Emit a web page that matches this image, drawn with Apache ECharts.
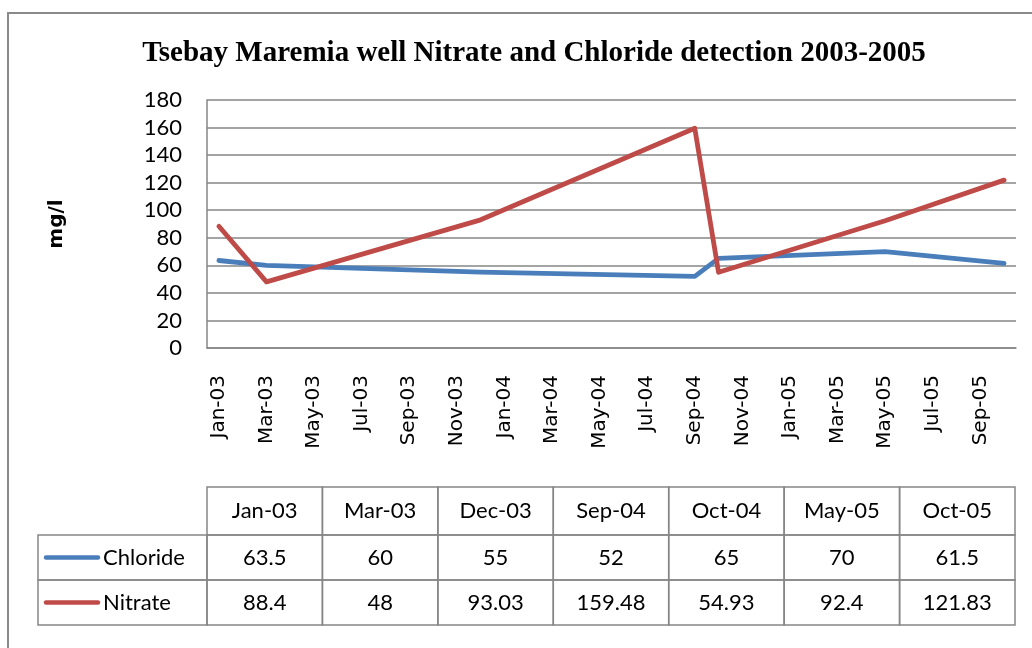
<!DOCTYPE html>
<html>
<head>
  <meta charset="utf-8">
  <script src="https://cdn.jsdelivr.net/npm/echarts@6.0.0/dist/echarts.min.js"></script>
  <style>
    body { margin: 0; padding: 0; background: #fff; }
    #chart { width: 1032px; height: 648px; }
  </style>
</head>
<body>
  <div id="chart"></div>
  <script>
    // month bands on the date axis (labels shown every other month)
    const months = [
      'Jan-03', 'Feb-03', 'Mar-03', 'Apr-03', 'May-03', 'Jun-03', 'Jul-03', 'Aug-03', 'Sep-03', 'Oct-03', 'Nov-03', 'Dec-03',
      'Jan-04', 'Feb-04', 'Mar-04', 'Apr-04', 'May-04', 'Jun-04', 'Jul-04', 'Aug-04', 'Sep-04', 'Oct-04', 'Nov-04', 'Dec-04',
      'Jan-05', 'Feb-05', 'Mar-05', 'Apr-05', 'May-05', 'Jun-05', 'Jul-05', 'Aug-05', 'Sep-05', 'Oct-05'
    ];
    const sampleDates = ['Jan-03', 'Mar-03', 'Dec-03', 'Sep-04', 'Oct-04', 'May-05', 'Oct-05'];
    const chloride = [63.5, 60, 55, 52, 65, 70, 61.5];
    const nitrate = [88.4, 48, 93.03, 159.48, 54.93, 92.4, 121.83];
    const yTicks = { min: 0, max: 180, step: 20 };

    const BLUE = '#4A7EBB';
    const RED = '#BE4B48';
    const GRID_COLOR = '#868686';

    const plot = { left: 207, right: 1016, top: 100, bottom: 348 };

    // data table under the chart
    const tbl = { left: 38, colStart: 207, right: 1015, rows: [487, 535, 580, 625] };
    const colW = (tbl.right - tbl.colStart) / sampleDates.length;
    const cellFont = '22px Lato';
    const graphics = [];

    // outer chart frame (runs off the right and bottom edge)
    graphics.push({
      type: 'rect', shape: { x: 8, y: 13, width: 1060, height: 700 },
      style: { fill: 'none', stroke: '#8a8a8a', lineWidth: 2 }, silent: true
    });

    const border = { fill: 'none', stroke: GRID_COLOR, lineWidth: 1.5 };
    // header row cells
    sampleDates.forEach((d, i) => {
      const x = tbl.colStart + i * colW;
      graphics.push({ type: 'rect', shape: { x: x, y: tbl.rows[0], width: colW, height: tbl.rows[1] - tbl.rows[0] }, style: border });
      graphics.push({ type: 'text', x: x + colW / 2, y: (tbl.rows[0] + tbl.rows[1]) / 2,
        style: { text: d, font: cellFont, fill: '#000', align: 'center', verticalAlign: 'middle' } });
    });

    const rowsData = [
      { name: 'Chloride', color: BLUE, values: chloride },
      { name: 'Nitrate', color: RED, values: nitrate }
    ];
    rowsData.forEach((r, ri) => {
      const y0 = tbl.rows[ri + 1], y1 = tbl.rows[ri + 2];
      const cy = (y0 + y1) / 2;
      graphics.push({ type: 'rect', shape: { x: tbl.left, y: y0, width: tbl.colStart - tbl.left, height: y1 - y0 }, style: border });
      graphics.push({ type: 'line', shape: { x1: 46, y1: cy, x2: 98, y2: cy },
        style: { stroke: r.color, lineWidth: 4.5, lineCap: 'round' } });
      graphics.push({ type: 'text', x: 103, y: cy,
        style: { text: r.name, font: cellFont, fill: '#000', align: 'left', verticalAlign: 'middle' } });
      r.values.forEach((v, i) => {
        const x = tbl.colStart + i * colW;
        graphics.push({ type: 'rect', shape: { x: x, y: y0, width: colW, height: y1 - y0 }, style: border });
        graphics.push({ type: 'text', x: x + colW / 2, y: cy,
          style: { text: String(v), font: cellFont, fill: '#000', align: 'center', verticalAlign: 'middle' } });
      });
    });

    const lineSeries = (name, values, color) => ({
      name: name,
      type: 'line',
      data: sampleDates.map((d, i) => [d, values[i]]),
      showSymbol: false,
      symbol: 'none',
      lineStyle: { color: color, width: 4.8, cap: 'round', join: 'round' },
      itemStyle: { color: color },
      z: 3
    });

    const chart = echarts.init(document.getElementById('chart'));
    chart.setOption({
      animation: false,
      backgroundColor: '#fff',
      title: {
        text: 'Tsebay Maremia well Nitrate and Chloride detection 2003-2005',
        left: 529,
        top: 34,
        textAlign: 'center',
        textStyle: { fontFamily: 'Liberation Serif', fontWeight: 'bold', fontSize: 29, color: '#000' }
      },
      grid: {
        left: plot.left, right: 1032 - plot.right, top: plot.top, height: plot.bottom - plot.top,
        containLabel: false
      },
      xAxis: {
        type: 'category',
        data: months,
        boundaryGap: true,
        axisTick: { show: false },
        axisLine: { lineStyle: { color: GRID_COLOR, width: 1.5 } },
        axisLabel: {
          rotate: 90, interval: 1, margin: 27,
          fontFamily: 'DejaVu Sans', fontSize: 20, color: '#000'
        },
        splitLine: { show: false }
      },
      yAxis: {
        type: 'value',
        min: yTicks.min, max: yTicks.max, interval: yTicks.step,
        name: 'mg/l',
        nameLocation: 'middle',
        nameRotate: 90,
        nameGap: 140,
        nameTextStyle: { fontFamily: 'DejaVu Sans', fontWeight: 'bold', fontSize: 20, color: '#000' },
        axisLine: { show: true, lineStyle: { color: GRID_COLOR, width: 1.5 } },
        axisTick: { show: false },
        axisLabel: { fontFamily: 'Lato', fontSize: 22, color: '#000', margin: 25 },
        splitLine: { lineStyle: { color: GRID_COLOR, width: 1.5 } }
      },
      series: [
        lineSeries('Chloride', chloride, BLUE),
        lineSeries('Nitrate', nitrate, RED)
      ],
      graphic: graphics
    });
  </script>
</body>
</html>
